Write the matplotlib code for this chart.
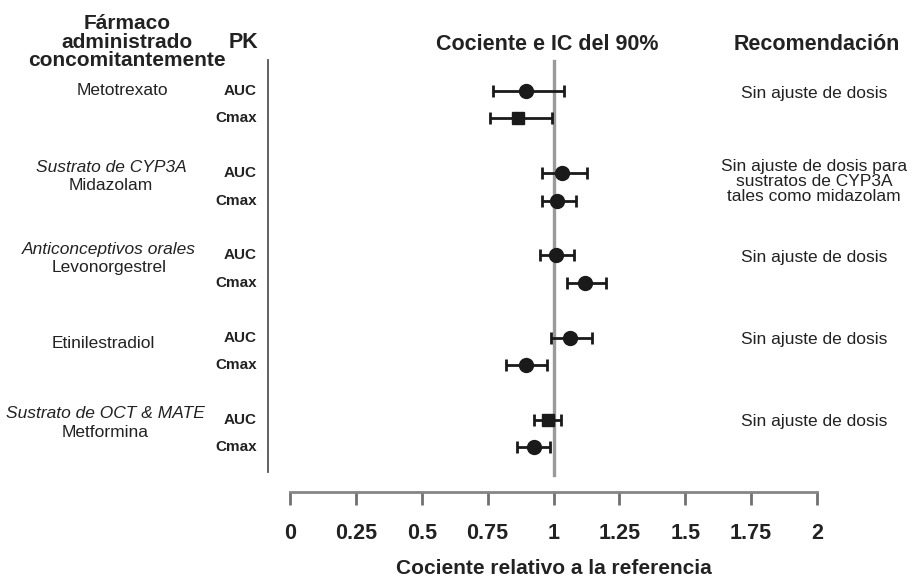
import matplotlib
matplotlib.use("Agg")
import matplotlib.pyplot as plt
import matplotlib.transforms as mtransforms

plt.rcParams['font.family'] = ['Liberation Sans', 'DejaVu Sans']

# ---- data ----
groups = ["Metotrexato", "Midazolam", "Levonorgestrel", "Etinilestradiol", "Metformina"]
group_cats = ["", "Sustrato de CYP3A", "Anticonceptivos orales", "", "Sustrato de OCT & MATE"]
pk_params = ["AUC", "Cmax"]
ratio = [[0.894, 0.867], [1.034, 1.015], [1.008, 1.121], [1.064, 0.894], [0.978, 0.925]]
ci_low = [[0.769, 0.758], [0.955, 0.958], [0.947, 1.053], [0.990, 0.818], [0.925, 0.863]]
ci_high = [[1.038, 0.996], [1.129, 1.087], [1.076, 1.200], [1.148, 0.975], [1.030, 0.988]]
markers = [["o", "s"], ["o", "o"], ["o", "o"], ["o", "o"], ["s", "o"]]
recommendations = ["Sin ajuste de dosis",
                   "Sin ajuste de dosis para\nsustratos de CYP3A\ntales como midazolam",
                   "Sin ajuste de dosis", "Sin ajuste de dosis", "Sin ajuste de dosis"]
xticks = [0, 0.25, 0.5, 0.75, 1, 1.25, 1.5, 1.75, 2]
xticklabels = ["0", "0.25", "0.5", "0.75", "1", "1.25", "1.5", "1.75", "2"]

W, H = 919, 576
fig = plt.figure(figsize=(W / 100, H / 100), dpi=100)
ax = fig.add_axes([290 / W, (H - 492) / H, 527 / W, (492 - 60) / H])
ax.set_xlim(0, 2)
ax.set_ylim(14.635, -1.131)

txt = "#222222"
for g in range(len(groups)):
    for r in range(2):
        y = 3 * g + r
        ax.errorbar(ratio[g][r], y,
                    xerr=[[ratio[g][r] - ci_low[g][r]], [ci_high[g][r] - ratio[g][r]]],
                    fmt=markers[g][r], color="#1a1a1a", ms=10 if markers[g][r] == "o" else 9,
                    ecolor="#1a1a1a", elinewidth=2, capsize=4, capthick=2, zorder=3)

# reference line at 1 and left separator
ax.plot([1, 1], [-1.1, 14.0], color="#9a9a9a", lw=2.4, clip_on=False, zorder=1)
ax.plot([-0.083, -0.083], [-1.13, 13.9], color="#555555", lw=1.3, clip_on=False)

for s in ["top", "right", "left"]:
    ax.spines[s].set_visible(False)
ax.spines["bottom"].set_color("#858585")
ax.spines["bottom"].set_linewidth(2)
ax.set_yticks([])
ax.set_xticks(xticks)
ax.set_xticklabels(xticklabels, fontsize=15.5, fontweight="bold", color=txt)
ax.tick_params(axis="x", direction="out", length=9, width=2, color="#707070", pad=13)
ax.set_xlabel("Cociente relativo a la referencia", fontsize=15, fontweight="bold",
              color=txt, labelpad=11)

trans = mtransforms.blended_transform_factory(fig.transFigure, ax.transData)
label_x = [122, 111, 109, 103, 105]
for g in range(len(groups)):
    yauc = 3 * g
    if group_cats[g]:
        ax.text(label_x[g] / W, yauc - 0.22, group_cats[g], transform=trans, ha="center",
                va="center", fontsize=12.5, style="italic", color=txt)
        ax.text(label_x[g] / W, yauc + 0.45, groups[g], transform=trans, ha="center",
                va="center", fontsize=12.5, color=txt)
    else:
        ax.text(label_x[g] / W, yauc + (0.2 if g == 3 else 0), groups[g], transform=trans,
                ha="center", va="center", fontsize=12.5, color=txt)
    for r in range(2):
        ax.text(257 / W, yauc + r, pk_params[r], transform=trans, ha="right", va="center",
                fontsize=11, fontweight="bold", color=txt)
    yrec = yauc + (0.3 if "\n" in recommendations[g] else 0.08)
    ax.text(814 / W, yrec, recommendations[g], transform=trans, ha="center", va="center",
            fontsize=12.5, color=txt, linespacing=1.0)

# headers
fig.text(127 / W, 1 - 42 / H, "Fármaco\nadministrado\nconcomitantemente", ha="center",
         va="center", fontsize=15, fontweight="bold", color=txt, linespacing=0.95)
fig.text(243 / W, 1 - 43 / H, "PK", ha="center", va="center", fontsize=15.5,
         fontweight="bold", color=txt)
fig.text(547 / W, 1 - 45 / H, "Cociente e IC del 90%", ha="center", va="center",
         fontsize=15.5, fontweight="bold", color=txt)
fig.text(817 / W, 1 - 45 / H, "Recomendación", ha="center", va="center",
         fontsize=15.5, fontweight="bold", color=txt)

fig.savefig("out.png", dpi=100)
